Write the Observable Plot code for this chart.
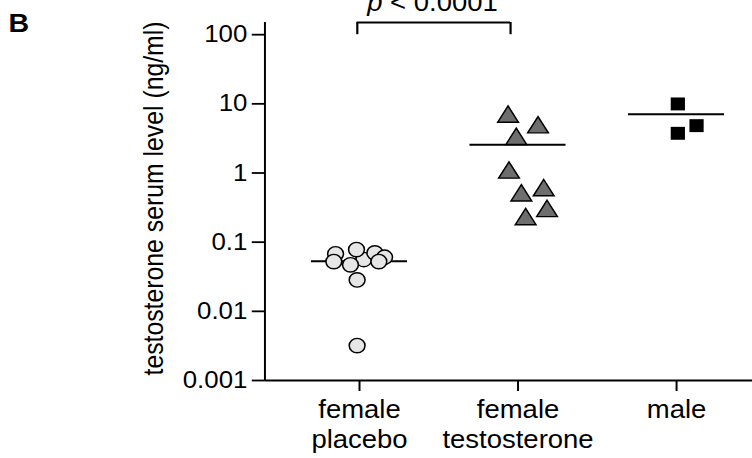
<!DOCTYPE html>
<html>
<head>
<meta charset="utf-8">
<script src="https://cdn.jsdelivr.net/npm/d3@7"></script>
<script src="https://cdn.jsdelivr.net/npm/@observablehq/plot@0.6"></script>
<style>
  html, body { margin: 0; padding: 0; background: #fff; }
  #chart svg { transform: scaleX(1.0994); transform-origin: 0 0; overflow: visible; }
</style>
</head>
<body>
<div id="chart"></div>
<script>
// ---- data ----
const categories = ["female\nplacebo", "female\ntestosterone", "male"];

const placeboValues = [0.0561, 0.0678, 0.0782, 0.070, 0.0605, 0.0524, 0.047, 0.0524, 0.0285, 0.0032];
const placeboJitter = [0.027, -0.151, -0.019, 0.097, 0.158, -0.162, -0.057, 0.122, -0.015, -0.015];

const testosteroneValues = [6.49, 4.56, 3.10, 1.01, 0.473, 0.561, 0.281, 0.214];
const testosteroneJitter = [-0.063, 0.126, -0.011, -0.057, 0.021, 0.162, 0.183, 0.048];

const maleValues = [9.97, 4.84, 3.75];
const maleJitter = [0.008, 0.126, 0.008];

const groupMeans = [0.053, 2.57, 7.05];

const yTicks = [0.001, 0.01, 0.1, 1, 10, 100];
const yTickLabels = ["0.001", "0.01", "0.1", "1", "10", "100"];
const yDomain = [0.001, 150];

const yLabel = "testosterone serum level (ng/ml)";
const panelLabel = "B";
const pItalic = "p";
const pRest = " < 0.0001";
const bracketGroups = [0, 1];
const bracketSpan = [100, 150];

// ---- build tables ----
const placebo = placeboValues.map((v, i) => ({g: 0, j: placeboJitter[i], v}));
const testo = testosteroneValues.map((v, i) => ({g: 1, j: testosteroneJitter[i], v}));
const male = maleValues.map((v, i) => ({g: 2, j: maleJitter[i], v}));
const means = groupMeans.map((m, i) => ({g: i, m}));
const half = 0.303;

const axisLine = (index, scales, values, dims) =>
  d3.create("svg:line")
    .attr("x1", dims.marginLeft).attr("x2", dims.marginLeft)
    .attr("y1", dims.marginTop).attr("y2", dims.height - dims.marginBottom)
    .attr("stroke", "black").attr("stroke-width", 1.8).node();

const plot = Plot.plot({
  width: 684,
  height: 458,
  marginLeft: 241,
  marginRight: 0,
  marginTop: 22,
  marginBottom: 78,
  style: {fontFamily: "'Liberation Sans', Arial, Helvetica, sans-serif", background: "white", color: "black"},
  x: {type: "linear", domain: [0, 2], range: [326.5, 614.9]},
  y: {type: "log", domain: yDomain},
  marks: [
    Plot.axisY({ticks: yTicks, tickFormat: d => yTickLabels[yTicks.indexOf(d)], tickSize: 12, tickPadding: 4.5, fontSize: 23.5, strokeWidth: 1.8, label: null}),
    Plot.axisX({ticks: [0, 1, 2], tickFormat: d => categories[d], tickSize: 11, tickPadding: 5, fontSize: 25, lineHeight: 1.2, strokeWidth: 1.8, label: null}),
    axisLine,
    Plot.ruleY([yDomain[0]], {stroke: "black", strokeWidth: 2}),
    // significance bracket
    Plot.ruleY([bracketSpan[1]], {x1: bracketGroups[0], x2: bracketGroups[1], insetLeft: -2, insetRight: 6.8, strokeWidth: 2}),
    Plot.ruleX([bracketGroups[0]], {y1: bracketSpan[0], y2: bracketSpan[1], dx: -2, strokeWidth: 2}),
    Plot.ruleX([bracketGroups[1]], {y1: bracketSpan[0], y2: bracketSpan[1], dx: -6.8, strokeWidth: 2}),
    Plot.text([pItalic + pRest], {x: bracketGroups[0], frameAnchor: "top", dx: 7, dy: -12, lineAnchor: "bottom", textAnchor: "start", fontSize: 25}),
    // mean lines
    Plot.ruleY(means, {x1: d => d.g - half, x2: d => d.g + half, y: "m", stroke: "black", strokeWidth: 2}),
    // points
    Plot.dot(placebo, {x: d => d.g + d.j, y: "v", r: 7.2, fill: "#e6e6e6", stroke: "black", strokeWidth: 1.4}),
    Plot.dot(testo, {x: d => d.g + d.j, y: "v", symbol: "triangle", r: 7, fill: "#6e6e6e", stroke: "black", strokeWidth: 1.4}),
    Plot.dot(male, {x: d => d.g + d.j, y: "v", symbol: "square", r: 7.3, fill: "black", stroke: "none"}),
    // labels
    Plot.text([yLabel], {frameAnchor: "left", rotate: -90, dx: -92.8, dy: -3, lineAnchor: "bottom", textAnchor: "middle", fontSize: 24.8}),
    Plot.text([panelLabel], {frameAnchor: "top-left", dx: -233.7, dy: 9, lineAnchor: "bottom", textAnchor: "start", fontSize: 26, fontWeight: "bold"})
  ]
});

for (const t of plot.querySelectorAll("text")) {
  if (t.textContent === pItalic + pRest) {
    t.textContent = "";
    t.setAttribute("style", "white-space: pre");
    const a = document.createElementNS("http://www.w3.org/2000/svg", "tspan");
    a.setAttribute("font-style", "italic");
    a.textContent = pItalic;
    const b = document.createElementNS("http://www.w3.org/2000/svg", "tspan");
    b.textContent = pRest;
    t.appendChild(a);
    t.appendChild(b);
  }
}

document.getElementById("chart").appendChild(plot);
</script>
</body>
</html>
